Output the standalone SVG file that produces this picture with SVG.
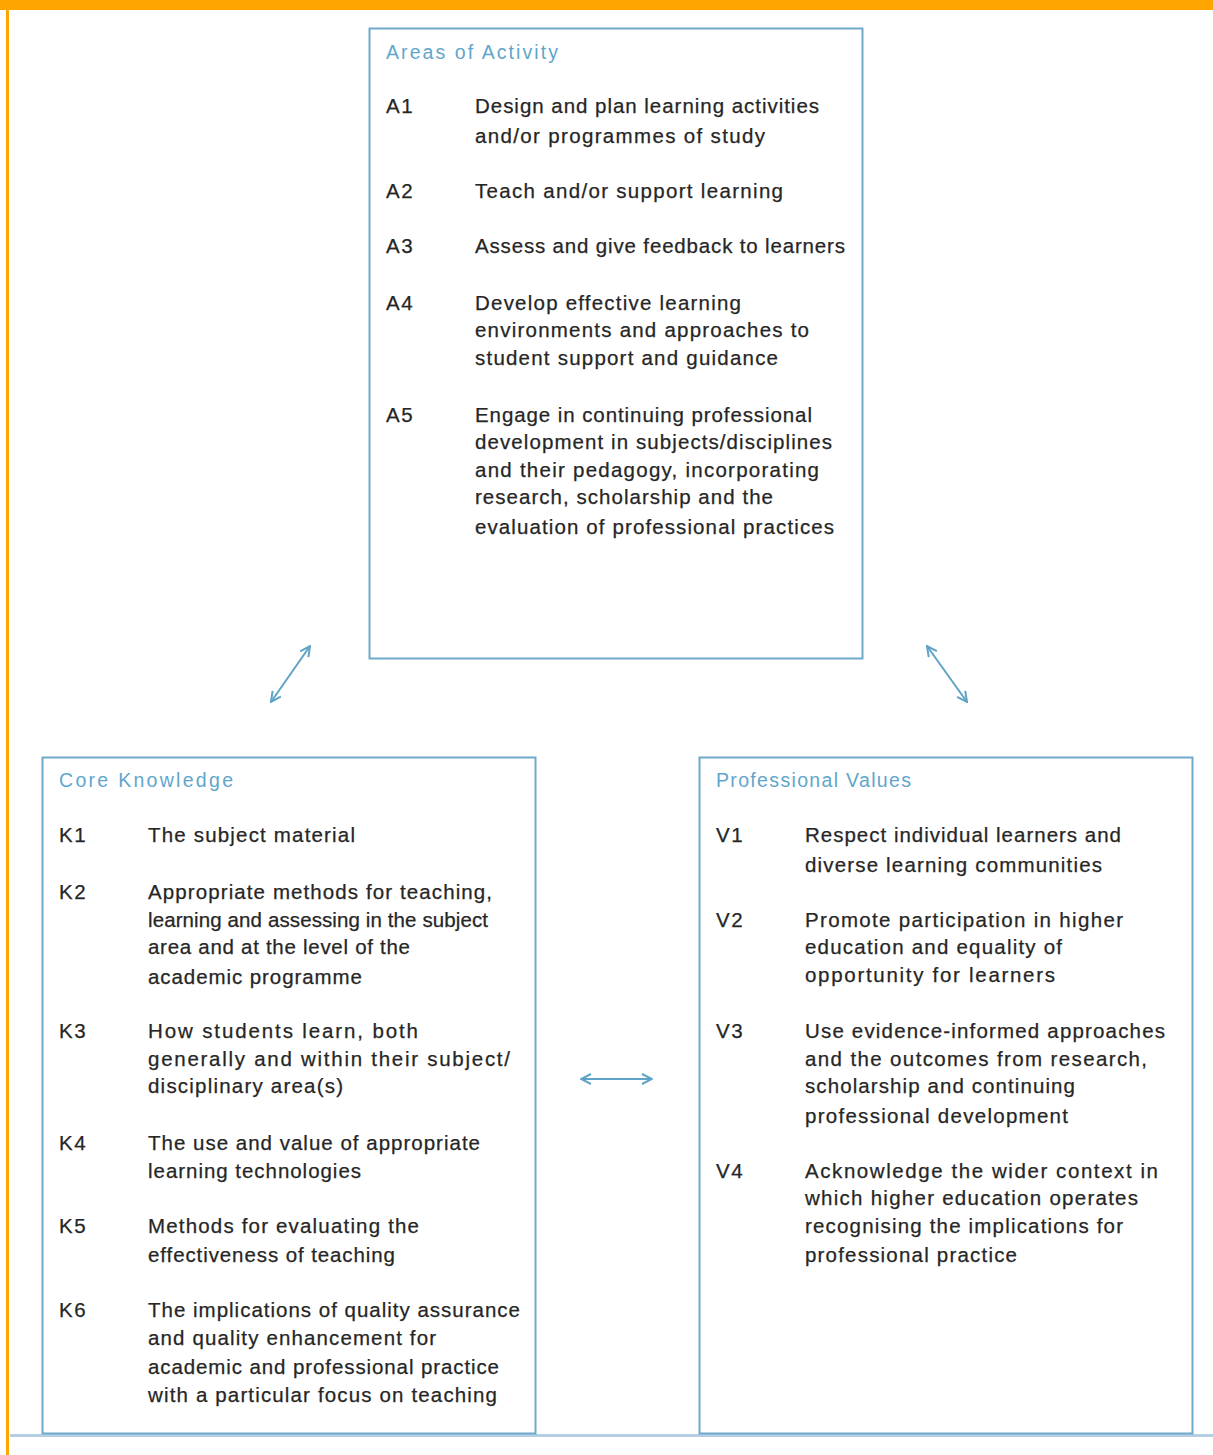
<svg xmlns="http://www.w3.org/2000/svg" width="1213" height="1455" viewBox="0 0 1213 1455">
<defs>
<style>
.box{fill:#ffffff;stroke:#6ea9c9;stroke-width:2}
.ttl{font-family:"Liberation Sans",Arial,sans-serif;font-size:19.5px;fill:#5fa6cc}
.t{font-family:"Liberation Sans",Arial,sans-serif;font-size:20.5px;fill:#262626;stroke:#262626;stroke-width:0.25px}
.lbl{font-family:"Liberation Sans",Arial,sans-serif;font-size:20.5px;letter-spacing:1.5px;fill:#262626;stroke:#262626;stroke-width:0.25px}
.con{fill:none;stroke:#5fa3c6;stroke-width:2}
</style>
<marker id="ah" viewBox="0 0 12 12" refX="11" refY="6" markerWidth="12" markerHeight="12" markerUnits="userSpaceOnUse" orient="auto-start-reverse">
<path d="M1,1 L11,6 L1,11" fill="none" stroke="#5fa3c6" stroke-width="2"/>
</marker>
</defs>
<rect x="0" y="0" width="1213" height="1455" fill="#ffffff"/>
<rect x="0" y="0" width="1213" height="10" fill="#ffa500"/>
<rect x="6" y="0" width="3" height="1455" fill="#ffa500"/>
<rect x="10" y="1434" width="1203" height="3" fill="#b6cee4"/>

<g id="areas">
<rect class="box" x="369.5" y="28.5" width="493" height="630"/>
<text class="ttl" x="386" y="59" textLength="172" lengthAdjust="spacing">Areas of Activity</text>
<text class="lbl" x="386" y="113">A1</text>
<text class="t" x="475" y="113" textLength="344" lengthAdjust="spacing">Design and plan learning activities</text>
<text class="t" x="475" y="143" textLength="290" lengthAdjust="spacing">and/or programmes of study</text>
<text class="lbl" x="386" y="198">A2</text>
<text class="t" x="475" y="198" textLength="308" lengthAdjust="spacing">Teach and/or support learning</text>
<text class="lbl" x="386" y="253">A3</text>
<text class="t" x="475" y="253" textLength="370" lengthAdjust="spacing">Assess and give feedback to learners</text>
<text class="lbl" x="386" y="310">A4</text>
<text class="t" x="475" y="310" textLength="266" lengthAdjust="spacing">Develop effective learning</text>
<text class="t" x="475" y="337" textLength="334" lengthAdjust="spacing">environments and approaches to</text>
<text class="t" x="475" y="365" textLength="303" lengthAdjust="spacing">student support and guidance</text>
<text class="lbl" x="386" y="422">A5</text>
<text class="t" x="475" y="422" textLength="337" lengthAdjust="spacing">Engage in continuing professional</text>
<text class="t" x="475" y="449" textLength="357" lengthAdjust="spacing">development in subjects/disciplines</text>
<text class="t" x="475" y="477" textLength="344" lengthAdjust="spacing">and their pedagogy, incorporating</text>
<text class="t" x="475" y="504" textLength="298" lengthAdjust="spacing">research, scholarship and the</text>
<text class="t" x="475" y="534" textLength="359" lengthAdjust="spacing">evaluation of professional practices</text>
</g>

<g id="knowledge">
<rect class="box" x="42.5" y="757.5" width="493" height="676"/>
<text class="ttl" x="59" y="787" textLength="174" lengthAdjust="spacing">Core Knowledge</text>
<text class="lbl" x="59" y="842">K1</text>
<text class="t" x="148" y="842" textLength="207" lengthAdjust="spacing">The subject material</text>
<text class="lbl" x="59" y="899">K2</text>
<text class="t" x="148" y="899" textLength="344" lengthAdjust="spacing">Appropriate methods for teaching,</text>
<text class="t" x="148" y="927" textLength="340" lengthAdjust="spacing">learning and assessing in the subject</text>
<text class="t" x="148" y="954" textLength="262" lengthAdjust="spacing">area and at the level of the</text>
<text class="t" x="148" y="984" textLength="214" lengthAdjust="spacing">academic programme</text>
<text class="lbl" x="59" y="1038">K3</text>
<text class="t" x="148" y="1038" textLength="270" lengthAdjust="spacing">How students learn, both</text>
<text class="t" x="148" y="1066" textLength="362" lengthAdjust="spacing">generally and within their subject/</text>
<text class="t" x="148" y="1093" textLength="195" lengthAdjust="spacing">disciplinary area(s)</text>
<text class="lbl" x="59" y="1150">K4</text>
<text class="t" x="148" y="1150" textLength="332" lengthAdjust="spacing">The use and value of appropriate</text>
<text class="t" x="148" y="1178" textLength="213" lengthAdjust="spacing">learning technologies</text>
<text class="lbl" x="59" y="1233">K5</text>
<text class="t" x="148" y="1233" textLength="271" lengthAdjust="spacing">Methods for evaluating the</text>
<text class="t" x="148" y="1262" textLength="247" lengthAdjust="spacing">effectiveness of teaching</text>
<text class="lbl" x="59" y="1317">K6</text>
<text class="t" x="148" y="1317" textLength="372" lengthAdjust="spacing">The implications of quality assurance</text>
<text class="t" x="148" y="1345" textLength="288" lengthAdjust="spacing">and quality enhancement for</text>
<text class="t" x="148" y="1374" textLength="351" lengthAdjust="spacing">academic and professional practice</text>
<text class="t" x="148" y="1402" textLength="349" lengthAdjust="spacing">with a particular focus on teaching</text>
</g>

<g id="values">
<rect class="box" x="699.5" y="757.5" width="493" height="676"/>
<text class="ttl" x="716" y="787" textLength="195" lengthAdjust="spacing">Professional Values</text>
<text class="lbl" x="716" y="842">V1</text>
<text class="t" x="805" y="842" textLength="316" lengthAdjust="spacing">Respect individual learners and</text>
<text class="t" x="805" y="872" textLength="297" lengthAdjust="spacing">diverse learning communities</text>
<text class="lbl" x="716" y="927">V2</text>
<text class="t" x="805" y="927" textLength="318" lengthAdjust="spacing">Promote participation in higher</text>
<text class="t" x="805" y="954" textLength="257" lengthAdjust="spacing">education and equality of</text>
<text class="t" x="805" y="982" textLength="250" lengthAdjust="spacing">opportunity for learners</text>
<text class="lbl" x="716" y="1038">V3</text>
<text class="t" x="805" y="1038" textLength="360" lengthAdjust="spacing">Use evidence-informed approaches</text>
<text class="t" x="805" y="1066" textLength="342" lengthAdjust="spacing">and the outcomes from research,</text>
<text class="t" x="805" y="1093" textLength="270" lengthAdjust="spacing">scholarship and continuing</text>
<text class="t" x="805" y="1123" textLength="263" lengthAdjust="spacing">professional development</text>
<text class="lbl" x="716" y="1178">V4</text>
<text class="t" x="805" y="1178" textLength="353" lengthAdjust="spacing">Acknowledge the wider context in</text>
<text class="t" x="805" y="1205" textLength="333" lengthAdjust="spacing">which higher education operates</text>
<text class="t" x="805" y="1233" textLength="318" lengthAdjust="spacing">recognising the implications for</text>
<text class="t" x="805" y="1262" textLength="212" lengthAdjust="spacing">professional practice</text>
</g>

<g id="connectors">
<line class="con" x1="271" y1="702" x2="310" y2="646" marker-start="url(#ah)" marker-end="url(#ah)"/>
<line class="con" x1="927" y1="646" x2="967" y2="702" marker-start="url(#ah)" marker-end="url(#ah)"/>
<line class="con" x1="581" y1="1079" x2="652" y2="1079" marker-start="url(#ah)" marker-end="url(#ah)"/>
</g>
</svg>
